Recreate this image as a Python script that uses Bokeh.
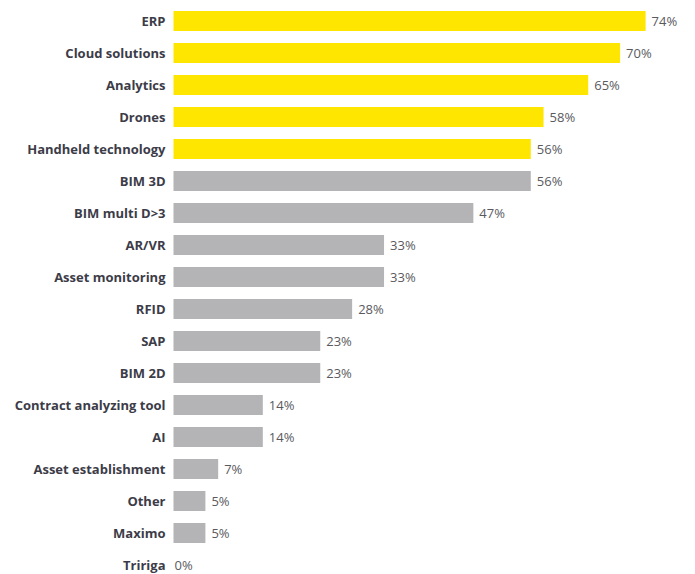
from bokeh.plotting import figure
from bokeh.models import ColumnDataSource, Range1d
from bokeh.core.properties import value
from bokeh.embed import file_html
from bokeh.resources import INLINE

categories = ["ERP", "Cloud solutions", "Analytics", "Drones", "Handheld technology",
              "BIM 3D", "BIM multi D>3", "AR/VR", "Asset monitoring", "RFID", "SAP",
              "BIM 2D", "Contract analyzing tool", "AI", "Asset establishment",
              "Other", "Maximo", "Tririga"]
values = [74, 70, 65, 58, 56, 56, 47, 33, 33, 28, 23, 23, 14, 14, 7, 5, 5, 0]
highlighted = [True, True, True, True, True] + [False] * 13

YELLOW = "#FFE600"
GREY = "#B4B4B6"

n = len(categories)
rows = list(range(n))
src = ColumnDataSource(dict(
    y=rows,
    v=values,
    cat=categories,
    lbl=[f"{v}%" for v in values],
    color=[YELLOW if h else GREY for h in highlighted],
    off=[6 if v > 0 else 1 for v in values],
))

W, H = 695, 574
px_per = 6.38
x0_px = 173
row_px = 32.0
top_px = 20.5
p = figure(width=W, height=H, output_backend="svg", toolbar_location=None,
           x_range=Range1d(-x0_px / px_per, (W - x0_px) / px_per),
           y_range=Range1d(-top_px / row_px + H / row_px, -top_px / row_px),
           min_border=0, outline_line_color=None)
p.axis.visible = False
p.grid.visible = False
p.background_fill_color = "white"
p.border_fill_color = "white"

p.hbar(y="y", left=0, right="v", height=0.62, color="color", line_color=None, source=src)

p.text(x=-8 / px_per, y="y", text="cat", source=src, text_align="right", text_baseline="middle",
       text_font=value("Open Sans"), text_font_style="bold", text_font_size="13px",
       text_color="#3c3c48")
p.text(x="v", y="y", text="lbl", source=src, x_offset="off", text_align="left",
       text_baseline="middle", text_font=value("Open Sans"), text_font_size="13px",
       text_color="#5a5a5e")

open("out.html", "w").write(file_html(p, INLINE))
